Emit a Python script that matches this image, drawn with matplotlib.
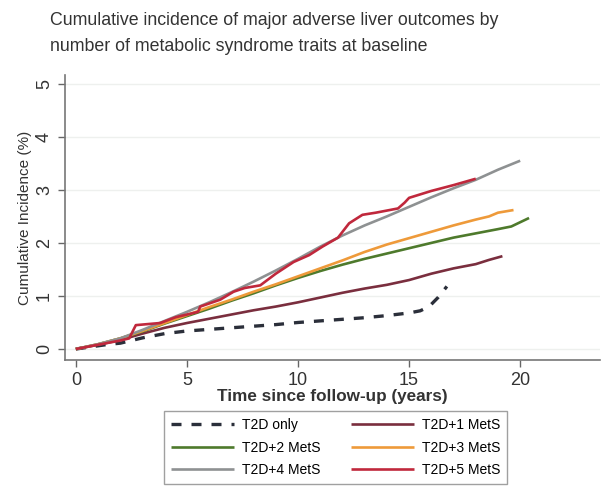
import matplotlib
matplotlib.use("Agg")
import matplotlib.pyplot as plt

plt.rcParams['font.family'] = ['Liberation Sans', 'DejaVu Sans']

# years since follow-up, cumulative incidence (%)
t2d_only_x = [0.0, 0.5, 1.0, 1.5, 2.0, 3.0, 4.0, 5.0, 6.0, 7.0, 8.0, 9.0, 10.0, 11.0, 12.0, 13.0, 14.0, 15.0, 15.5, 15.9, 16.3, 16.7]
t2d_only_y = [0.0, 0.03, 0.06, 0.09, 0.11, 0.21, 0.29, 0.34, 0.37, 0.40, 0.43, 0.46, 0.50, 0.53, 0.56, 0.59, 0.63, 0.68, 0.72, 0.80, 0.97, 1.18]

mets1_x = [0.0, 1.0, 2.0, 3.0, 4.0, 5.0, 6.0, 7.0, 8.0, 9.0, 10.0, 11.0, 12.0, 13.0, 14.0, 15.0, 16.0, 17.0, 18.0, 18.6, 19.2]
mets1_y = [0.0, 0.08, 0.17, 0.29, 0.40, 0.49, 0.57, 0.65, 0.73, 0.80, 0.88, 0.97, 1.06, 1.14, 1.21, 1.30, 1.42, 1.52, 1.60, 1.68, 1.75]

mets2_x = [0.0, 1.0, 2.0, 3.0, 4.0, 5.0, 6.0, 7.0, 8.0, 9.0, 10.0, 11.0, 12.0, 13.0, 14.0, 15.0, 16.0, 17.0, 18.0, 19.0, 19.6, 20.4]
mets2_y = [0.0, 0.09, 0.20, 0.33, 0.48, 0.62, 0.76, 0.91, 1.05, 1.20, 1.34, 1.47, 1.59, 1.70, 1.80, 1.90, 2.00, 2.10, 2.18, 2.26, 2.31, 2.47]

mets3_x = [0.0, 1.0, 2.0, 3.0, 4.0, 5.0, 6.0, 7.0, 8.0, 9.0, 10.0, 11.0, 12.0, 13.0, 14.0, 15.0, 16.0, 17.0, 18.0, 18.6, 19.0, 19.7]
mets3_y = [0.0, 0.09, 0.20, 0.34, 0.49, 0.64, 0.79, 0.93, 1.08, 1.22, 1.37, 1.52, 1.67, 1.83, 1.97, 2.09, 2.21, 2.33, 2.44, 2.50, 2.57, 2.62]

mets4_x = [0.0, 1.0, 2.0, 3.0, 4.0, 5.0, 6.0, 7.0, 8.0, 9.0, 10.0, 11.0, 12.0, 13.0, 14.0, 15.0, 16.0, 17.0, 18.0, 19.0, 20.0]
mets4_y = [0.0, 0.09, 0.20, 0.36, 0.53, 0.70, 0.88, 1.07, 1.27, 1.48, 1.70, 1.93, 2.14, 2.33, 2.50, 2.68, 2.86, 3.03, 3.19, 3.38, 3.55]

mets5_x = [0.0, 1.0, 2.0, 2.4, 2.7, 3.8, 4.5, 5.5, 5.6, 6.5, 7.1, 7.6, 8.3, 9.0, 9.8, 10.5, 11.1, 11.8, 12.3, 12.9, 13.5, 14.5, 14.8, 15.0, 16.0, 17.0, 18.0]
mets5_y = [0.0, 0.08, 0.16, 0.20, 0.45, 0.49, 0.60, 0.70, 0.80, 0.93, 1.08, 1.15, 1.20, 1.42, 1.64, 1.77, 1.93, 2.10, 2.37, 2.53, 2.57, 2.65, 2.76, 2.85, 2.98, 3.09, 3.21]

series = [
    (t2d_only_x, t2d_only_y, 'T2D only', '#2b2f3a', (0, (3, 3))),
    (mets1_x, mets1_y, 'T2D+1 MetS', '#7a2e3e', '-'),
    (mets2_x, mets2_y, 'T2D+2 MetS', '#4e7a2c', '-'),
    (mets3_x, mets3_y, 'T2D+3 MetS', '#ee9a3a', '-'),
    (mets4_x, mets4_y, 'T2D+4 MetS', '#8e9192', '-'),
    (mets5_x, mets5_y, 'T2D+5 MetS', '#c0283c', '-'),
]

fig = plt.figure(figsize=(6.05, 4.92), dpi=100)
ax = fig.add_axes([0.107, 0.268, 0.885, 0.58])

lines = {}
for x, y, label, color, ls in series:
    ln, = ax.plot(x, y, color=color, linestyle=ls, linewidth=2.4 if label == 'T2D only' else 1.9,
                  label=label, solid_capstyle='butt')
    lines[label] = ln

ax.set_xlim(-0.5, 23.6)
ax.set_ylim(-0.21, 5.17)
ax.set_xticks([0, 5, 10, 15, 20])
ax.set_yticks([0, 1, 2, 3, 4, 5])
ax.set_yticklabels(['0', '1', '2', '3', '4', '5'], rotation=90, va='center')
ax.tick_params(axis='both', labelsize=13, length=5, width=1, colors='#666666', labelcolor='#333333')
ax.grid(axis='y', color='#eef0ee', linewidth=1)
for s in ['top', 'right']:
    ax.spines[s].set_visible(False)
for s in ['left', 'bottom']:
    ax.spines[s].set_color('#777777')
    ax.spines[s].set_linewidth(1.2)

ax.set_xlabel('Time since follow-up (years)', fontsize=12.3, fontweight='bold', color='#333333', labelpad=0)
ax.set_ylabel('Cumulative Incidence (%)', fontsize=11, color='#333333', labelpad=3)

fig.text(0.082, 0.975, 'Cumulative incidence of major adverse liver outcomes by\nnumber of metabolic syndrome traits at baseline',
         fontsize=12.8, color='#333333', va='top', ha='left', linespacing=1.7)

# row-major order like the original legend
order = ['T2D only', 'T2D+2 MetS', 'T2D+4 MetS', 'T2D+1 MetS', 'T2D+3 MetS', 'T2D+5 MetS']
leg = ax.legend([lines[k] for k in order], order, loc='upper center', bbox_to_anchor=(0.506, -0.155),
                ncol=2, fontsize=10, frameon=True, fancybox=False, edgecolor='#888888',
                handlelength=4.5, columnspacing=2.2, handletextpad=0.6, borderpad=0.5,
                labelspacing=0.6)
leg.get_frame().set_linewidth(1.0)

fig.savefig('out.png', dpi=100)
